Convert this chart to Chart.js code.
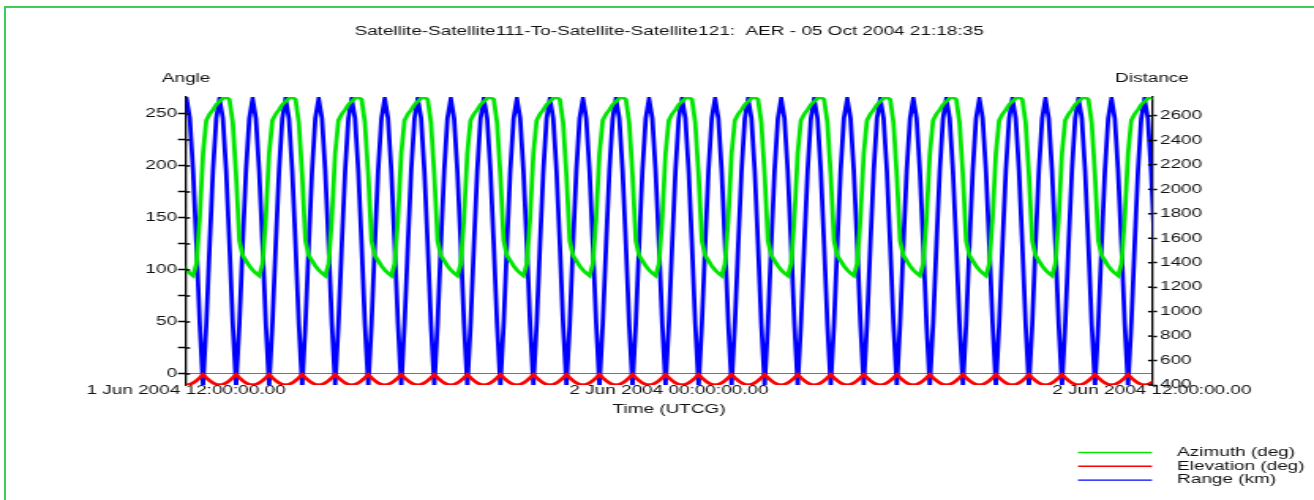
<!DOCTYPE html>
<html>
<head>
<meta charset="utf-8">
<title>AER chart</title>
<script src="https://cdn.jsdelivr.net/npm/chart.js@4.4.1/dist/chart.umd.min.js"></script>
<style>
  html, body { margin: 0; padding: 0; background: #fff; overflow: hidden; }
  #frame { position: absolute; left: 4px; top: 6px; width: 1400px; height: 600px;
           border-left: 2px solid #40cc5c; border-top: 2px solid #40cc5c; }
  #chart { position: absolute; left: 0; top: 0; }
</style>
</head>
<body>
<div id="frame"></div>
<!-- the original picture is stretched sideways, so the canvas is drawn narrow and scaled up -->
<canvas id="chart" width="832" height="500" style="width:1314px;height:500px"></canvas>
<script>
const chartTitle = 'Satellite-Satellite111-To-Satellite-Satellite121:  AER - 05 Oct 2004 21:18:35';
const timeTickLabels = ['1 Jun 2004 12:00:00.00', '2 Jun 2004 00:00:00.00', '2 Jun 2004 12:00:00.00'];
const seriesNames = ['Azimuth (deg)', 'Elevation (deg)', 'Range (km)'];
const axisNames = ['Angle', 'Distance', 'Time (UTCG)'];

// minutes after 1 Jun 2004 12:00:00
const minutes = [
  -4.3, 0.7, 5.6, 10.5, 15.5, 20.4, 25.3, 30.2, 35.2, 40.1, 45, 49.9, 54.9, 59.8, 64.7, 69.6, 74.6, 79.5, 84.4, 89.3,
  94.3, 99.2, 104.1, 109, 114, 118.9, 123.8, 128.7, 133.7, 138.6, 143.5, 148.4, 153.4, 158.3, 163.2, 168.1, 173.1, 178, 182.9, 187.8,
  192.7, 197.7, 202.6, 207.5, 212.5, 217.4, 222.3, 227.2, 232.2, 237.1, 242, 246.9, 251.9, 256.8, 261.7, 266.6, 271.6, 276.5, 281.4, 286.3,
  291.3, 296.2, 301.1, 306, 311, 315.9, 320.8, 325.7, 330.7, 335.6, 340.5, 345.4, 350.4, 355.3, 360.2, 365.1, 370.1, 375, 379.9, 384.8,
  389.7, 394.7, 399.6, 404.5, 409.5, 414.4, 419.3, 424.2, 429.2, 434.1, 439, 443.9, 448.9, 453.8, 458.7, 463.6, 468.6, 473.5, 478.4, 483.3,
  488.3, 493.2, 498.1, 503, 508, 512.9, 517.8, 522.7, 527.7, 532.6, 537.5, 542.4, 547.4, 552.3, 557.2, 562.1, 567.1, 572, 576.9, 581.8,
  586.7, 591.7, 596.6, 601.5, 606.5, 611.4, 616.3, 621.2, 626.2, 631.1, 636, 640.9, 645.9, 650.8, 655.7, 660.6, 665.6, 670.5, 675.4, 680.3,
  685.3, 690.2, 695.1, 700, 705, 709.9, 714.8, 719.7, 724.7, 729.6, 734.5, 739.4, 744.4, 749.3, 754.2, 759.1, 764.1, 769, 773.9, 778.8,
  783.7, 788.7, 793.6, 798.5, 803.5, 808.4, 813.3, 818.2, 823.2, 828.1, 833, 837.9, 842.9, 847.8, 852.7, 857.6, 862.6, 867.5, 872.4, 877.3,
  882.3, 887.2, 892.1, 897, 902, 906.9, 911.8, 916.7, 921.7, 926.6, 931.5, 936.4, 941.4, 946.3, 951.2, 956.1, 961.1, 966, 970.9, 975.8,
  980.7, 985.7, 990.6, 995.5, 1000.5, 1005.4, 1010.3, 1015.2, 1020.2, 1025.1, 1030, 1034.9, 1039.9, 1044.8, 1049.7, 1054.6, 1059.6, 1064.5, 1069.4, 1074.3,
  1079.3, 1084.2, 1089.1, 1094, 1099, 1103.9, 1108.8, 1113.7, 1118.7, 1123.6, 1128.5, 1133.4, 1138.4, 1143.3, 1148.2, 1153.1, 1158.1, 1163, 1167.9, 1172.8,
  1177.7, 1182.7, 1187.6, 1192.5, 1197.5, 1202.4, 1207.3, 1212.2, 1217.2, 1222.1, 1227, 1231.9, 1236.9, 1241.8, 1246.7, 1251.6, 1256.6, 1261.5, 1266.4, 1271.3,
  1276.3, 1281.2, 1286.1, 1291, 1296, 1300.9, 1305.8, 1310.7, 1315.7, 1320.6, 1325.5, 1330.4, 1335.4, 1340.3, 1345.2, 1350.1, 1355.1, 1360, 1364.9, 1369.8,
  1374.7, 1379.7, 1384.6, 1389.5, 1394.5, 1399.4, 1404.3, 1409.2, 1414.2, 1419.1, 1424, 1428.9, 1433.9, 1438.8, 1443.7
];

// deg
const azimuth = [
  104, 100, 97, 94.5, 106, 150, 212, 244, 250, 254, 259, 262, 265, 266, 264, 242, 191, 128, 114, 109,
  104, 100, 97, 94.5, 106, 150, 212, 244, 250, 254, 259, 262, 265, 266, 264, 242, 191, 128, 114, 109,
  104, 100, 97, 94.5, 106, 150, 212, 244, 250, 254, 259, 262, 265, 266, 264, 242, 191, 128, 114, 109,
  104, 100, 97, 94.5, 106, 150, 212, 244, 250, 254, 259, 262, 265, 266, 264, 242, 191, 128, 114, 109,
  104, 100, 97, 94.5, 106, 150, 212, 244, 250, 254, 259, 262, 265, 266, 264, 242, 191, 128, 114, 109,
  104, 100, 97, 94.5, 106, 150, 212, 244, 250, 254, 259, 262, 265, 266, 264, 242, 191, 128, 114, 109,
  104, 100, 97, 94.5, 106, 150, 212, 244, 250, 254, 259, 262, 265, 266, 264, 242, 191, 128, 114, 109,
  104, 100, 97, 94.5, 106, 150, 212, 244, 250, 254, 259, 262, 265, 266, 264, 242, 191, 128, 114, 109,
  104, 100, 97, 94.5, 106, 150, 212, 244, 250, 254, 259, 262, 265, 266, 264, 242, 191, 128, 114, 109,
  104, 100, 97, 94.5, 106, 150, 212, 244, 250, 254, 259, 262, 265, 266, 264, 242, 191, 128, 114, 109,
  104, 100, 97, 94.5, 106, 150, 212, 244, 250, 254, 259, 262, 265, 266, 264, 242, 191, 128, 114, 109,
  104, 100, 97, 94.5, 106, 150, 212, 244, 250, 254, 259, 262, 265, 266, 264, 242, 191, 128, 114, 109,
  104, 100, 97, 94.5, 106, 150, 212, 244, 250, 254, 259, 262, 265, 266, 264, 242, 191, 128, 114, 109,
  104, 100, 97, 94.5, 106, 150, 212, 244, 250, 254, 259, 262, 265, 266, 264, 242, 191, 128, 114, 109,
  104, 100, 97, 94.5, 106, 150, 212, 244, 250, 254, 259, 262, 265, 266, 264
];

// deg
const elevation = [
  -10, -10.5, -10, -8.6, -6.4, -3.6, -0.5, -3.6, -6.4, -8.6, -10, -10.5, -10, -8.6, -6.4, -3.6, -0.5, -3.6, -6.4, -8.6,
  -10, -10.5, -10, -8.6, -6.4, -3.6, -0.5, -3.6, -6.4, -8.6, -10, -10.5, -10, -8.6, -6.4, -3.6, -0.5, -3.6, -6.4, -8.6,
  -10, -10.5, -10, -8.6, -6.4, -3.6, -0.5, -3.6, -6.4, -8.6, -10, -10.5, -10, -8.6, -6.4, -3.6, -0.5, -3.6, -6.4, -8.6,
  -10, -10.5, -10, -8.6, -6.4, -3.6, -0.5, -3.6, -6.4, -8.6, -10, -10.5, -10, -8.6, -6.4, -3.6, -0.5, -3.6, -6.4, -8.6,
  -10, -10.5, -10, -8.6, -6.4, -3.6, -0.5, -3.6, -6.4, -8.6, -10, -10.5, -10, -8.6, -6.4, -3.6, -0.5, -3.6, -6.4, -8.6,
  -10, -10.5, -10, -8.6, -6.4, -3.6, -0.5, -3.6, -6.4, -8.6, -10, -10.5, -10, -8.6, -6.4, -3.6, -0.5, -3.6, -6.4, -8.6,
  -10, -10.5, -10, -8.6, -6.4, -3.6, -0.5, -3.6, -6.4, -8.6, -10, -10.5, -10, -8.6, -6.4, -3.6, -0.5, -3.6, -6.4, -8.6,
  -10, -10.5, -10, -8.6, -6.4, -3.6, -0.5, -3.6, -6.4, -8.6, -10, -10.5, -10, -8.6, -6.4, -3.6, -0.5, -3.6, -6.4, -8.6,
  -10, -10.5, -10, -8.6, -6.4, -3.6, -0.5, -3.6, -6.4, -8.6, -10, -10.5, -10, -8.6, -6.4, -3.6, -0.5, -3.6, -6.4, -8.6,
  -10, -10.5, -10, -8.6, -6.4, -3.6, -0.5, -3.6, -6.4, -8.6, -10, -10.5, -10, -8.6, -6.4, -3.6, -0.5, -3.6, -6.4, -8.6,
  -10, -10.5, -10, -8.6, -6.4, -3.6, -0.5, -3.6, -6.4, -8.6, -10, -10.5, -10, -8.6, -6.4, -3.6, -0.5, -3.6, -6.4, -8.6,
  -10, -10.5, -10, -8.6, -6.4, -3.6, -0.5, -3.6, -6.4, -8.6, -10, -10.5, -10, -8.6, -6.4, -3.6, -0.5, -3.6, -6.4, -8.6,
  -10, -10.5, -10, -8.6, -6.4, -3.6, -0.5, -3.6, -6.4, -8.6, -10, -10.5, -10, -8.6, -6.4, -3.6, -0.5, -3.6, -6.4, -8.6,
  -10, -10.5, -10, -8.6, -6.4, -3.6, -0.5, -3.6, -6.4, -8.6, -10, -10.5, -10, -8.6, -6.4, -3.6, -0.5, -3.6, -6.4, -8.6,
  -10, -10.5, -10, -8.6, -6.4, -3.6, -0.5, -3.6, -6.4, -8.6, -10, -10.5, -10, -8.6, -6.4
];

// km
const range = [
  2580, 2740, 2580, 2150, 1550, 900, 400, 900, 1550, 2150, 2580, 2740, 2580, 2150, 1550, 900, 400, 900, 1550, 2150,
  2580, 2740, 2580, 2150, 1550, 900, 400, 900, 1550, 2150, 2580, 2740, 2580, 2150, 1550, 900, 400, 900, 1550, 2150,
  2580, 2740, 2580, 2150, 1550, 900, 400, 900, 1550, 2150, 2580, 2740, 2580, 2150, 1550, 900, 400, 900, 1550, 2150,
  2580, 2740, 2580, 2150, 1550, 900, 400, 900, 1550, 2150, 2580, 2740, 2580, 2150, 1550, 900, 400, 900, 1550, 2150,
  2580, 2740, 2580, 2150, 1550, 900, 400, 900, 1550, 2150, 2580, 2740, 2580, 2150, 1550, 900, 400, 900, 1550, 2150,
  2580, 2740, 2580, 2150, 1550, 900, 400, 900, 1550, 2150, 2580, 2740, 2580, 2150, 1550, 900, 400, 900, 1550, 2150,
  2580, 2740, 2580, 2150, 1550, 900, 400, 900, 1550, 2150, 2580, 2740, 2580, 2150, 1550, 900, 400, 900, 1550, 2150,
  2580, 2740, 2580, 2150, 1550, 900, 400, 900, 1550, 2150, 2580, 2740, 2580, 2150, 1550, 900, 400, 900, 1550, 2150,
  2580, 2740, 2580, 2150, 1550, 900, 400, 900, 1550, 2150, 2580, 2740, 2580, 2150, 1550, 900, 400, 900, 1550, 2150,
  2580, 2740, 2580, 2150, 1550, 900, 400, 900, 1550, 2150, 2580, 2740, 2580, 2150, 1550, 900, 400, 900, 1550, 2150,
  2580, 2740, 2580, 2150, 1550, 900, 400, 900, 1550, 2150, 2580, 2740, 2580, 2150, 1550, 900, 400, 900, 1550, 2150,
  2580, 2740, 2580, 2150, 1550, 900, 400, 900, 1550, 2150, 2580, 2740, 2580, 2150, 1550, 900, 400, 900, 1550, 2150,
  2580, 2740, 2580, 2150, 1550, 900, 400, 900, 1550, 2150, 2580, 2740, 2580, 2150, 1550, 900, 400, 900, 1550, 2150,
  2580, 2740, 2580, 2150, 1550, 900, 400, 900, 1550, 2150, 2580, 2740, 2580, 2150, 1550, 900, 400, 900, 1550, 2150,
  2580, 2740, 2580, 2150, 1550, 900, 400, 900, 1550, 2150, 2580, 2740, 2580, 2150, 1550
];

const FONT = '"Liberation Sans", Arial, sans-serif';
const INK = '#111';
Chart.defaults.font.family = FONT;
Chart.defaults.font.size = 12;
Chart.defaults.color = INK;

// canvas is 832 wide, shown at 1314 -> factor 1.579
const PLOT_LEFT = 117.8, PLOT_RIGHT = 729.4, PLOT_TOP = 97, PLOT_BOTTOM = 385;

function pairs(vals) {
  return minutes.map((t, i) => ({ x: t, y: vals[i] }));
}

// "Angle" / "Distance" sit flat above the axes, plus small tick stubs on the inside
const axisHeads = {
  id: 'axisHeads',
  afterDraw(chart) {
    const ctx = chart.ctx, a = chart.chartArea;
    ctx.save();
    ctx.font = '12px ' + FONT;
    ctx.fillStyle = INK;
    ctx.textAlign = 'center';
    ctx.textBaseline = 'middle';
    ctx.fillText(chart.options.scales.y.title.text, a.left, 78.5);
    ctx.fillText(chart.options.scales.y1.title.text, a.right, 78.5);
    ctx.strokeStyle = '#000';
    ctx.lineWidth = 1.5;
    ['y', 'y1'].forEach(id => {
      const s = chart.scales[id];
      const x0 = id === 'y' ? a.left : a.right;
      const dx = id === 'y' ? 2.5 : -2.5;
      s.ticks.forEach(t => {
        const py = s.getPixelForValue(t.value);
        ctx.beginPath(); ctx.moveTo(x0, py); ctx.lineTo(x0 + dx, py); ctx.stroke();
      });
    });
    ctx.restore();
  }
};

// stacked legend at bottom right
const sideLegend = {
  id: 'sideLegend',
  afterDraw(chart) {
    const ctx = chart.ctx, a = chart.chartArea;
    ctx.save();
    ctx.font = '12px ' + FONT;
    ctx.textAlign = 'left';
    ctx.textBaseline = 'middle';
    chart.data.datasets.forEach((ds, i) => {
      const y = 452.5 + i * 13.8;
      ctx.strokeStyle = ds.borderColor;
      ctx.lineWidth = 1.4;
      ctx.beginPath(); ctx.moveTo(a.right - 46.8, y); ctx.lineTo(a.right, y); ctx.stroke();
      ctx.fillStyle = INK;
      ctx.fillText(ds.label, a.right + 15.9, y);
    });
    ctx.restore();
  }
};

new Chart(document.getElementById('chart'), {
  type: 'line',
  data: {
    datasets: [
      { label: seriesNames[0], data: pairs(azimuth), borderColor: '#00e600', yAxisID: 'y' },
      { label: seriesNames[1], data: pairs(elevation), borderColor: '#ff0000', yAxisID: 'y' },
      { label: seriesNames[2], data: pairs(range), borderColor: '#0000ff', yAxisID: 'y1' }
    ]
  },
  options: {
    responsive: false,
    animation: false,
    devicePixelRatio: 1,
    layout: { padding: 0 },
    elements: {
      point: { radius: 0 },
      line: { borderWidth: 2.8, tension: 0 }
    },
    plugins: {
      legend: { display: false },
      tooltip: { enabled: false },
      title: {
        display: true,
        text: chartTitle,
        fullSize: false,
        color: INK,
        font: { size: 12, weight: 'normal' },
        padding: { top: 24.8, bottom: 57.8 }
      }
    },
    scales: {
      x: {
        type: 'linear',
        min: 0,
        max: 1440,
        grid: { display: false, drawTicks: false },
        border: { display: false },
        ticks: {
          stepSize: 720,
          autoSkip: false,
          maxRotation: 0,
          padding: -2,
          callback: v => timeTickLabels[Math.round(v / 720)]
        },
        title: { display: true, text: axisNames[2], font: { size: 12 }, padding: { top: 0, bottom: 82.8 } },
        afterFit: s => { s.height = 500 - PLOT_BOTTOM; }
      },
      y: {
        position: 'left',
        min: -10.6,
        max: 266.3,
        ticks: {
          stepSize: 25,
          includeBounds: false,
          padding: 0.6,
          callback: v => (v % 50 === 0 ? String(v) : '')
        },
        grid: {
          drawOnChartArea: true,
          color: c => (c.tick && c.tick.value === 0 ? '#777' : 'rgba(0,0,0,0)'),
          tickColor: '#000',
          tickLength: 5.1,
          tickWidth: 1.5
        },
        border: { display: true, color: '#000', width: 1.3 },
        title: { display: false, text: axisNames[0] },
        afterFit: s => { s.width = PLOT_LEFT; }
      },
      y1: {
        position: 'right',
        min: 400,
        max: 2755,
        ticks: {
          stepSize: 100,
          includeBounds: false,
          padding: 1.9,
          callback: v => (v % 200 === 0 ? String(v) : '')
        },
        grid: { drawOnChartArea: false, tickColor: '#000', tickLength: 3.2, tickWidth: 1.5 },
        border: { display: true, color: '#000', width: 1.3 },
        title: { display: false, text: axisNames[1] },
        afterFit: s => { s.width = 832 - PLOT_RIGHT; }
      }
    }
  },
  plugins: [axisHeads, sideLegend]
});
</script>
</body>
</html>
